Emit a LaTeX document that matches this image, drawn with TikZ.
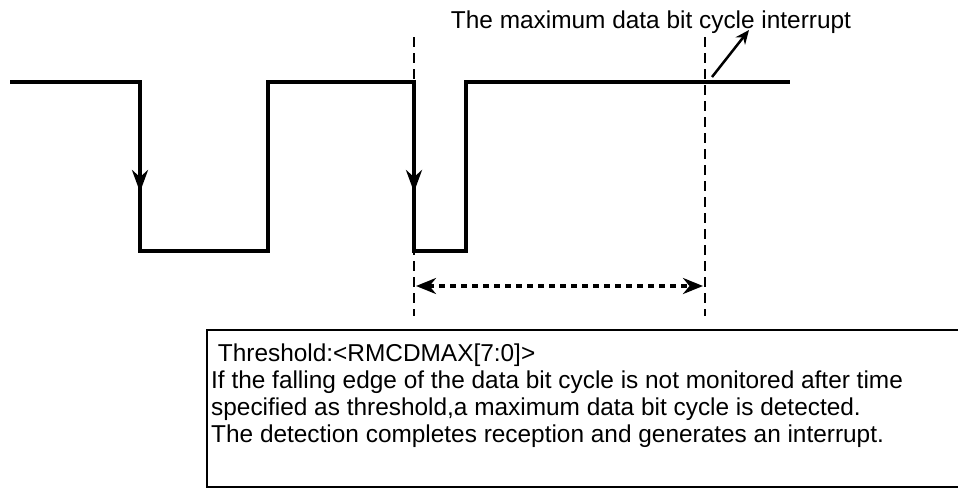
\documentclass[tikz,border=0pt]{standalone}
\usepackage{fontspec}
\setmainfont{Liberation Sans}
\usetikzlibrary{arrows.meta}
\begin{document}
\begin{tikzpicture}[x=1pt,y=-1pt,
  sig/.style={line width=4pt,line join=miter},
  vguide/.style={line width=2.5pt,dash pattern=on 10pt off 6pt},
  fall/.style={-{Stealth[length=22pt,width=16pt]}},
  lbl/.style={font=\fontsize{24.4}{26.8}\selectfont,inner sep=0pt},
  ]
\useasboundingbox (0,0) rectangle (958,488);
% waveform corners
\coordinate (s0) at (10,82);
\coordinate (f1t) at (140,82);
\coordinate (f1m) at (140,192);
\coordinate (f1b) at (140,251);
\coordinate (r1b) at (268,251);
\coordinate (r1t) at (268,82);
\coordinate (f2t) at (414,82);
\coordinate (f2m) at (414,192);
\coordinate (f2b) at (414,251);
\coordinate (r2b) at (466,251);
\coordinate (r2t) at (466,82);
\coordinate (s1) at (790,82);
\draw[sig] (s0) -- (f1t) -- (f1b) -- (r1b) -- (r1t) -- (f2t) -- (f2b) -- (r2b) -- (r2t) -- (s1);
\draw[sig,fall] (f1t) -- (f1m);
\draw[sig,fall] (f2t) -- (f2m);
% dashed guides
\coordinate (g1t) at (414,37);
\coordinate (g1b) at (414,316);
\coordinate (g2t) at (705,37);
\coordinate (g2b) at (705,316);
\draw[vguide] (g1t) -- (g1b);
\draw[vguide] (g2t) -- (g2b);
% period arrow
\coordinate (pa) at (416,286);
\coordinate (pb) at (703,286);
\draw[line width=3.5pt,dash pattern=on 6pt off 5pt,{Stealth[length=20pt,width=16pt]}-{Stealth[length=20pt,width=16pt]}] (pa) -- (pb);
% interrupt label and arrow
\node[lbl,anchor=base] (title) at (651,28) {The maximum data bit cycle interrupt};
\coordinate (ia) at (712,77);
\coordinate (ib) at (749,30);
\draw[line width=2.5pt,-{Stealth[length=14pt,width=12pt]}] (ia) -- (ib);
% description box
\draw[line width=2pt] (958,330) -- (207,330) -- (207,487) -- (958,487);
\node[lbl,anchor=north west,align=left] (desc) at (211,344) {\ Threshold:<RMCDMAX[7:0]>\\
If the falling edge of the data bit cycle is not monitored after time\\
specified as threshold,a maximum data bit cycle is detected.\\
The detection completes reception and generates an interrupt.};
\end{tikzpicture}
\end{document}
